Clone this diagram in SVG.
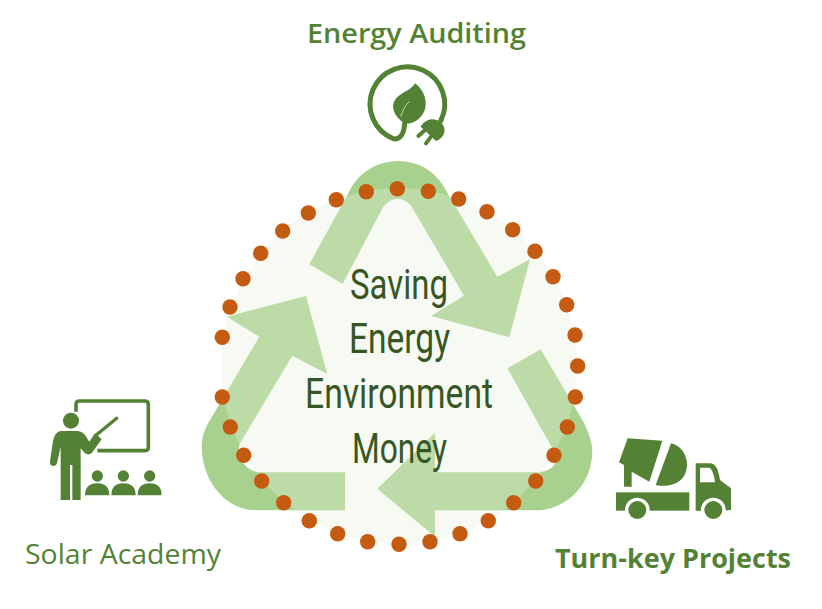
<svg xmlns="http://www.w3.org/2000/svg" width="822" height="609" viewBox="0 0 822 609">
<style>
.arrow{fill:#a9d18e}
.dot{fill:#c55a11}
.c{font-family:Roboto,"Liberation Sans",sans-serif;font-size:42px;fill:#375623}
.lab{font-family:"Open Sans","Noto Sans",sans-serif;fill:#548235}
.ic{fill:#548235}
.ics{fill:none;stroke:#548235;stroke-linecap:round}
</style>
<rect width="822" height="609" fill="#ffffff"/>
<g id="connectors">
<path class="arrow" d="M309.3 264.3L348.3 193.3C358 172 378 161 398.3 161C419 161 437 172 446.7 191.7L497.3 276.7L530 259.3L509.3 337.3L431 316L464 295.7L411.7 206.7C404 196 392 196 383.3 206.7L342.7 284Z"/>
<path class="arrow" d="M507.3 368.3L540.7 349.3L583.3 421.7C588 431 592.3 441 592.3 451.7C592.3 485 565 510.3 536.7 510.3L435 510.3L435 536.7L377.3 488.7L435 432.7L435 472.3L538.3 472.3C552 472 561 462 553.3 450Z"/>
<path class="arrow" d="M345 472.3L345 510.3L256.7 510.3C225 510.3 201.7 480 201.7 446.7C201.7 437 205 428 210 420L259.3 336.7L226.7 316.7L306 296L327.3 374L292.3 355.7L240 443.3C235 458 248 472.3 260 472.3Z"/>
</g>
<circle id="backdrop" cx="399" cy="366" r="178" fill="#e4f0db" fill-opacity="0.33"/>
<g id="dots" class="dot">
<circle cx="397.3" cy="188.7" r="7.7"/><circle cx="428.3" cy="191.3" r="7.7"/><circle cx="458.7" cy="199" r="7.7"/><circle cx="487" cy="211.7" r="7.7"/><circle cx="512.7" cy="229.7" r="7.7"/><circle cx="535" cy="251.3" r="7.7"/><circle cx="553" cy="276.7" r="7.7"/><circle cx="566.7" cy="304.7" r="7.7"/><circle cx="575" cy="335" r="7.7"/><circle cx="577.7" cy="366" r="7.7"/><circle cx="575.3" cy="397" r="7.7"/><circle cx="567.3" cy="427" r="7.7"/><circle cx="554" cy="455.3" r="7.7"/><circle cx="535.7" cy="481" r="7.7"/><circle cx="513.7" cy="502.7" r="7.7"/><circle cx="488.3" cy="520.7" r="7.7"/><circle cx="460" cy="533.7" r="7.7"/><circle cx="430" cy="541.7" r="7.7"/><circle cx="399" cy="544.3" r="7.7"/><circle cx="367.7" cy="541.7" r="7.7"/><circle cx="337.7" cy="533.7" r="7.7"/><circle cx="309.3" cy="520.7" r="7.7"/><circle cx="283.7" cy="502.7" r="7.7"/><circle cx="261.7" cy="481" r="7.7"/><circle cx="243.7" cy="455.3" r="7.7"/><circle cx="230.3" cy="427" r="7.7"/><circle cx="222.3" cy="397" r="7.7"/><circle cx="222.3" cy="337.3" r="7.7"/><circle cx="230" cy="307" r="7.7"/><circle cx="243" cy="278.7" r="7.7"/><circle cx="260.7" cy="253.3" r="7.7"/><circle cx="282.7" cy="231" r="7.7"/><circle cx="308.3" cy="213" r="7.7"/><circle cx="336.3" cy="199.7" r="7.7"/><circle cx="366.3" cy="191.7" r="7.7"/>
</g>
<g id="center-text">
<text class="c" x="350" y="299" textLength="98" lengthAdjust="spacingAndGlyphs">Saving</text>
<text class="c" x="349" y="353" textLength="101" lengthAdjust="spacingAndGlyphs">Energy</text>
<text class="c" x="305" y="408" textLength="188" lengthAdjust="spacingAndGlyphs">Environment</text>
<text class="c" x="352" y="463" textLength="95" lengthAdjust="spacingAndGlyphs">Money</text>
</g>
<g id="energy-auditing">
<text class="lab" x="307" y="43" font-size="27" font-weight="600" textLength="219" lengthAdjust="spacingAndGlyphs">Energy Auditing</text>
<g transform="translate(350 55) scale(.33333)">
<path class="ics" stroke-width="15" d="M272 198A112 112 0 1 0 132 252C154 252 162 235 164 205"/>
<path class="ic" d="M195 85C230 110 238 160 212 185C197 203 177 208 164 205C140 190 122 165 132 140C145 112 182 110 195 85Z"/>
<path fill="none" stroke="#ffffff" stroke-width="2" d="M178 140C165 150 157 170 152 185"/>
<path class="ic" d="M212 215L258 258C270 255 287 240 283 220C280 205 264 192 245 193C232 193 218 205 212 215Z"/>
<path class="ics" stroke-width="12" d="M222 228L205 243M243 245L228 265"/>
</g>
</g>
<g id="solar-academy">
<text class="lab" x="25" y="564" font-size="27" font-weight="400" textLength="196" lengthAdjust="spacingAndGlyphs">Solar Academy</text>
<g transform="translate(40 390) scale(.33333)">
<path fill="none" stroke="#548235" stroke-width="11" d="M108 65V43Q108 33 118 33H315Q325 33 325 43V172Q325 182 315 182H172"/>
<path class="ics" stroke-width="10" d="M230 85L165 138"/>
<circle class="ic" cx="93" cy="92" r="24"/>
<path class="ic" d="M60 123Q42 128 38 160L30 215Q30 228 40 228Q50 228 52 215L62 170V330H90V225H97V330H122V175L135 190Q145 197 155 190L185 148L165 130L148 155L135 135Q125 123 110 123Z"/>
<circle class="ic" cx="172" cy="258" r="17"/><circle class="ic" cx="250" cy="258" r="17"/><circle class="ic" cx="329" cy="258" r="17"/>
<path class="ic" d="M135 316Q135 280 172 280Q208 280 208 316Z"/>
<path class="ic" d="M214 316Q214 280 250 280Q287 280 287 316Z"/>
<path class="ic" d="M293 316Q293 280 329 280Q365 280 365 316Z"/>
</g>
</g>
<g id="turn-key-projects">
<text class="lab" x="555" y="568" font-size="27" font-weight="700" textLength="236" lengthAdjust="spacingAndGlyphs">Turn-key Projects</text>
<g transform="translate(605 425) scale(.33333)">
<path class="ic" d="M68 40L172 47L133 170L80 140V185H57V120L42 112Z"/>
<path class="ic" d="M198 55C240 65 250 110 245 130C240 170 200 190 152 180Z"/>
<rect class="ic" x="33" y="202" width="220" height="55"/>
<path class="ic" d="M272 115H315C330 115 340 130 345 165L378 190V255L350 257H272Z"/>
<path fill="#ffffff" d="M285 128H312C322 130 328 155 330 172H285Z"/>
<circle cx="97" cy="255" r="37" fill="#ffffff"/><circle cx="325" cy="255" r="37" fill="#ffffff"/>
<circle class="ic" cx="97" cy="255" r="27"/><circle class="ic" cx="325" cy="255" r="27"/>
</g>
</g>
</svg>
